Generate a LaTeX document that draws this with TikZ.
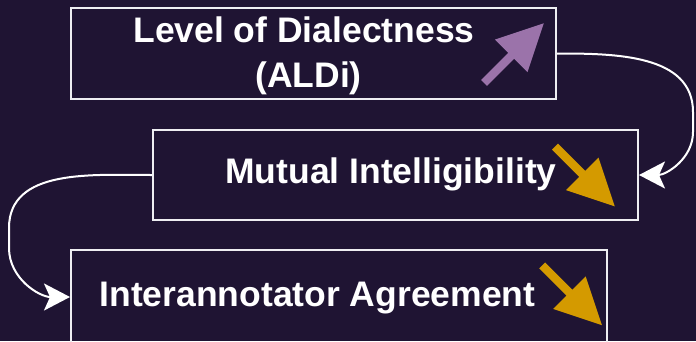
\documentclass[tikz,border=0pt]{standalone}
\usepackage{fontspec}
\setmainfont{Liberation Sans}
\usetikzlibrary{arrows.meta}

\definecolor{bgpurple}{HTML}{1F1433}
\definecolor{framewhite}{HTML}{EEEEF2}
\definecolor{arrowpurple}{HTML}{9B73AA}
\definecolor{arroworange}{HTML}{D49A00}

\tikzset{
  levelbox/.style={draw=framewhite, line width=2pt, inner sep=0pt, anchor=north west},
  boxlabel/.style={text=white, font=\fontsize{35.5}{45}\selectfont\bfseries, inner sep=0pt, anchor=base},
  flow/.style={draw=white, line width=2pt, -{Stealth[length=26pt,width=27pt,inset=6pt]}},
  pics/trendarrow/.style={code={
    \fill[#1] (0,-4.2) -- (38.5,-4.2) -- (38.5,-23) -- (84.5,0)
              -- (38.5,23) -- (38.5,4.2) -- (0,4.2) -- cycle;}}
}

\begin{document}
\begin{tikzpicture}[x=1pt, y=-1pt]
  % canvas
  \fill[bgpurple] (0,0) rectangle (696,341);
  \useasboundingbox (0,0) rectangle (696,341);

  % the three framed levels
  \node[levelbox, minimum width=485pt, minimum height=91pt] (b1) at (70,7) {};
  \node[levelbox, minimum width=485pt, minimum height=90pt] (b2) at (152,129) {};
  \node[levelbox, minimum width=536pt, minimum height=94pt] (b3) at (70,249) {};

  % labels
  \node[boxlabel] (t1) at (304,42) {Level of Dialectness};
  \node[boxlabel] (t1b) at (308.5,87) {(ALDi)};
  \node[boxlabel] (t2) at (391,183) {Mutual Intelligibility};
  \node[boxlabel] (t3) at (317.5,306) {Interannotator Agreement};

  % trend indicators
  \pic[rotate=45] at (484,83) {trendarrow=arrowpurple};
  \pic[rotate=-45] at (555,146.6) {trendarrow=arroworange};
  \pic[rotate=-45] at (542.2,265.4) {trendarrow=arroworange};

  % connectors between levels
  \coordinate (r1) at (693,112);
  \coordinate (r2) at (693,132);
  \coordinate (l1) at (9,228);
  \coordinate (l2) at (9,248);
  \draw[flow] (b1.east) to[out=0,in=90] (r1) -- (r2) to[out=-90,in=0] (b2.east);
  \draw[flow] (b2.west) to[out=180,in=90] (l1) -- (l2) to[out=-90,in=180] (b3.west);
\end{tikzpicture}
\end{document}
